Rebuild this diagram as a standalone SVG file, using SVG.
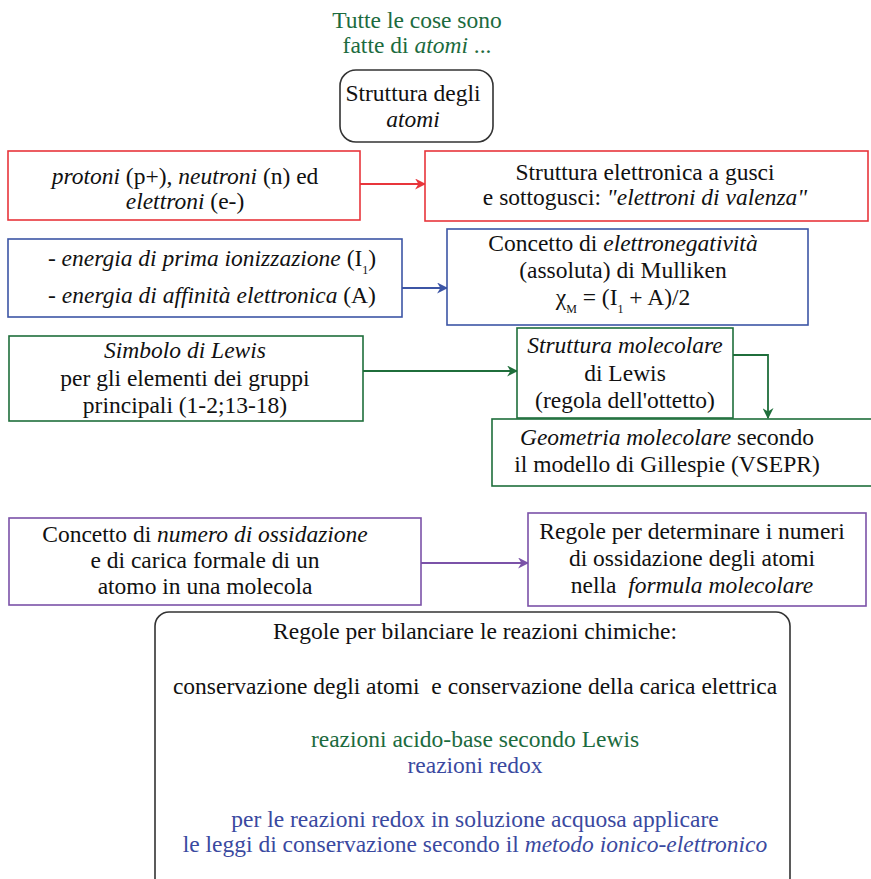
<svg xmlns="http://www.w3.org/2000/svg" width="871" height="879" viewBox="0 0 871 879">
<style>
text{font-family:"Liberation Serif","Times New Roman",serif;font-size:23.5px;fill:#111;text-anchor:middle}
.g{fill:#1c6b3e}.b{fill:#3a49a0}
.box{fill:#fff;stroke-width:1.6}
.red{stroke:#e8353b}.blue{stroke:#3c55a5}.green{stroke:#1f6e3b}.purple{stroke:#7b52a8}
.rb{fill:#fff;stroke:#333;stroke-width:1.6}
.c{fill:none;stroke-width:1.8}
.sub{font-size:12px}
</style>
<defs>
<marker id="ar" viewBox="0 0 10 10" refX="9" refY="5" markerWidth="11" markerHeight="11" markerUnits="userSpaceOnUse" orient="auto"><path d="M0,0 L10,5 L0,10 L3,5 z" fill="#e8353b"/></marker>
<marker id="ab" viewBox="0 0 10 10" refX="9" refY="5" markerWidth="11" markerHeight="11" markerUnits="userSpaceOnUse" orient="auto"><path d="M0,0 L10,5 L0,10 L3,5 z" fill="#3c55a5"/></marker>
<marker id="ag" viewBox="0 0 10 10" refX="9" refY="5" markerWidth="11" markerHeight="11" markerUnits="userSpaceOnUse" orient="auto"><path d="M0,0 L10,5 L0,10 L3,5 z" fill="#1f6e3b"/></marker>
<marker id="ap" viewBox="0 0 10 10" refX="9" refY="5" markerWidth="11" markerHeight="11" markerUnits="userSpaceOnUse" orient="auto"><path d="M0,0 L10,5 L0,10 L3,5 z" fill="#7b52a8"/></marker>
</defs>

<g id="intro">
<text class="g" x="417" y="28">Tutte le cose sono</text>
<text class="g" x="417" y="53">fatte di <tspan font-style="italic">atomi</tspan> ...</text>
</g>

<g id="struttura-atomi">
<rect class="rb" x="340" y="70" width="153" height="72" rx="16"/>
<text x="413" y="101">Struttura degli</text>
<text x="413" y="127" font-style="italic">atomi</text>
</g>

<g id="connectors">
<line class="c" stroke="#e8353b" x1="360" y1="184" x2="425" y2="184" marker-end="url(#ar)"/>
<line class="c" stroke="#3c55a5" x1="402" y1="288" x2="447" y2="288" marker-end="url(#ab)"/>
<line class="c" stroke="#1f6e3b" x1="363" y1="371" x2="517" y2="371" marker-end="url(#ag)"/>
<polyline class="c" stroke="#1f6e3b" points="733,355 768,355 768,418" marker-end="url(#ag)"/>
<line class="c" stroke="#7b52a8" x1="421" y1="563" x2="528" y2="563" marker-end="url(#ap)"/>
</g>

<g id="particelle">
<rect class="box red" x="8" y="151" width="352" height="69"/>
<text x="185" y="184"><tspan font-style="italic">protoni</tspan> (p+), <tspan font-style="italic">neutroni</tspan> (n) ed</text>
<text x="185" y="209"><tspan font-style="italic">elettroni</tspan> (e-)</text>
</g>

<g id="struttura-elettronica">
<rect class="box red" x="425" y="151" width="443" height="70"/>
<text x="645" y="180">Struttura elettronica a gusci</text>
<text x="645" y="205">e sottogusci: <tspan font-style="italic">"elettroni di valenza"</tspan></text>
</g>

<g id="energie">
<rect class="box blue" x="8" y="239" width="394" height="78"/>
<text x="212" y="266"><tspan font-style="italic">- energia di prima ionizzazione</tspan> (I<tspan class="sub" dy="8">1</tspan><tspan dy="-8">)</tspan></text>
<text x="212" y="303"><tspan font-style="italic">- energia di affinità elettronica</tspan> (A)</text>
</g>

<g id="elettronegativita">
<rect class="box blue" x="447" y="229" width="361" height="96"/>
<text x="623" y="251">Concetto di <tspan font-style="italic">elettronegatività</tspan></text>
<text x="623" y="278">(assoluta) di Mulliken</text>
<text x="623" y="305">χ<tspan class="sub" dy="8">M</tspan><tspan dy="-8"> = (I</tspan><tspan class="sub" dy="8">1</tspan><tspan dy="-8"> + A)/2</tspan></text>
</g>

<g id="simbolo-lewis">
<rect class="box green" x="9" y="336" width="354" height="85"/>
<text x="185" y="358" font-style="italic">Simbolo di Lewis</text>
<text x="185" y="386">per gli elementi dei gruppi</text>
<text x="185" y="413">principali (1-2;13-18)</text>
</g>

<g id="struttura-molecolare">
<rect class="box green" x="517" y="328" width="216" height="90"/>
<text x="625" y="353" font-style="italic">Struttura molecolare</text>
<text x="625" y="381">di Lewis</text>
<text x="625" y="408">(regola dell'ottetto)</text>
</g>

<g id="geometria">
<rect class="box green" x="492" y="419" width="385" height="67"/>
<text x="667" y="445"><tspan font-style="italic">Geometria molecolare</tspan> secondo</text>
<text x="667" y="472">il modello di Gillespie (VSEPR)</text>
</g>

<g id="ossidazione">
<rect class="box purple" x="9" y="518" width="412" height="87"/>
<text x="205" y="542">Concetto di <tspan font-style="italic">numero di ossidazione</tspan></text>
<text x="205" y="568">e di carica formale di un</text>
<text x="205" y="594">atomo in una molecola</text>
</g>

<g id="regole-ossidazione">
<rect class="box purple" x="528" y="513" width="338" height="93"/>
<text x="692" y="539">Regole per determinare i numeri</text>
<text x="692" y="566">di ossidazione degli atomi</text>
<text x="692" y="593" xml:space="preserve">nella  <tspan font-style="italic">formula molecolare</tspan></text>
</g>

<g id="bilanciamento">
<rect class="rb" x="155" y="612" width="635" height="280" rx="14"/>
<text x="475" y="639">Regole per bilanciare le reazioni chimiche:</text>
<text x="475" y="694" xml:space="preserve">conservazione degli atomi  e conservazione della carica elettrica</text>
<text class="g" x="475" y="747">reazioni acido-base secondo Lewis</text>
<text class="b" x="475" y="773">reazioni redox</text>
<text class="b" x="475" y="827">per le reazioni redox in soluzione acquosa applicare</text>
<text class="b" x="475" y="852">le leggi di conservazione secondo il <tspan font-style="italic">metodo ionico-elettronico</tspan></text>
</g>
</svg>
